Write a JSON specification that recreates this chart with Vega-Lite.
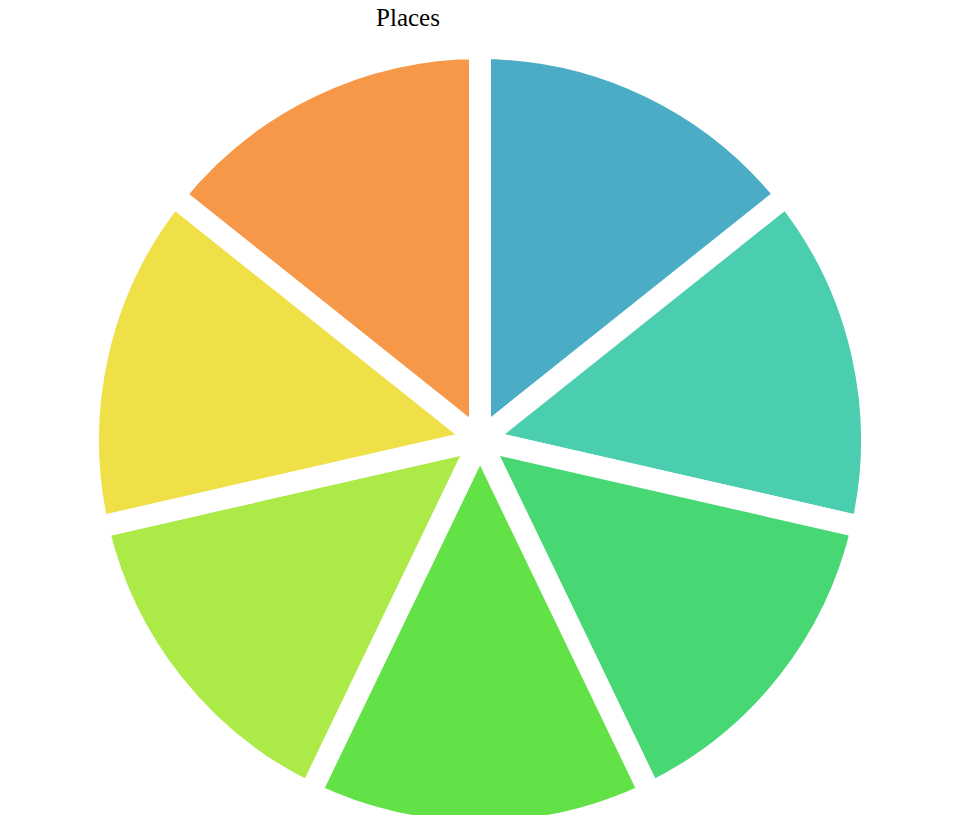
{
  "$schema": "https://vega.github.io/schema/vega-lite/v6.json",
  "autosize": "none",
  "width": 960,
  "height": 810,
  "padding": {"top": 35, "left": 0, "right": 0, "bottom": 0},
  "background": "white",
  "title": {
    "text": "Places",
    "font": "Liberation Serif",
    "fontSize": 25,
    "fontWeight": "normal",
    "color": "black",
    "anchor": "middle",
    "dx": -72,
    "dy": 35,
    "offset": 8
  },
  "data": {
    "values": [
      {"place": "Place 1", "idx": 1, "value": 1},
      {"place": "Place 2", "idx": 2, "value": 1},
      {"place": "Place 3", "idx": 3, "value": 1},
      {"place": "Place 4", "idx": 4, "value": 1},
      {"place": "Place 5", "idx": 5, "value": 1},
      {"place": "Place 6", "idx": 6, "value": 1},
      {"place": "Place 7", "idx": 7, "value": 1}
    ]
  },
  "mark": {"type": "arc", "outerRadius": 392, "stroke": "white", "strokeWidth": 22, "strokeJoin": "miter"},
  "encoding": {
    "theta": {"field": "value", "type": "quantitative", "stack": true},
    "order": {"field": "idx", "type": "quantitative"},
    "color": {
      "field": "place",
      "type": "nominal",
      "legend": null,
      "scale": {
        "domain": ["Place 1", "Place 2", "Place 3", "Place 4", "Place 5", "Place 6", "Place 7"],
        "range": ["#4BACC6", "#4BCDAF", "#48D873", "#62E247", "#ACEA48", "#EFE047", "#F79748"]
      }
    }
  },
  "config": {"view": {"stroke": null}}
}
